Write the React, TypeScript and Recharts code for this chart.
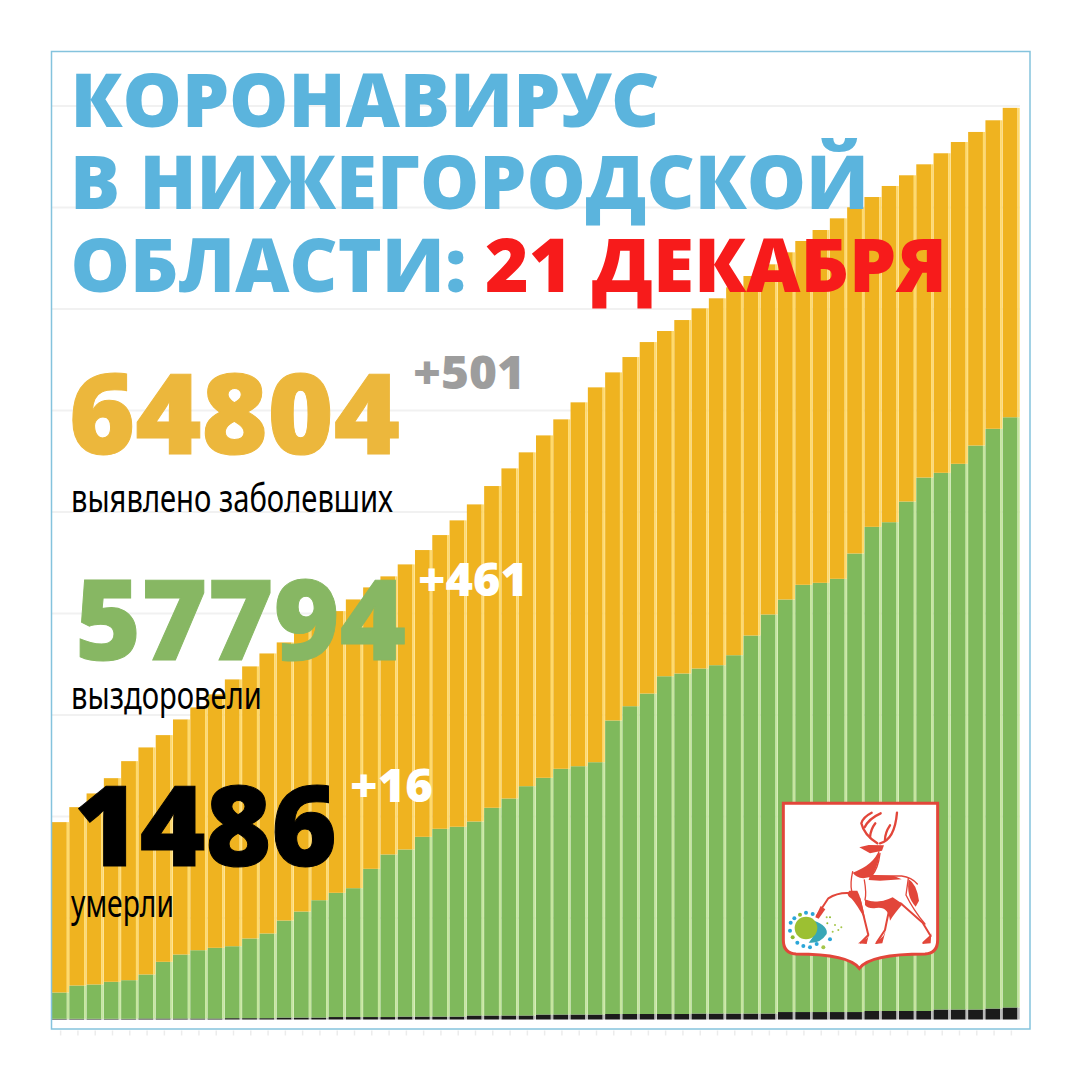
import React from "react";
import { BarChart, Bar, XAxis, YAxis, CartesianGrid } from "recharts";

// Bars in the picture's own scale (the last bar top = 64804).
// The green and black bars of the original are not to scale with their captions.
const confirmed = [
  14030, 15095, 16070, 17155, 18365, 19340, 20215, 21330, 22185, 23110, 24175, 25100, 26020, 26805,
  27730, 28370, 29030, 29860, 30715, 31500, 32350, 33370, 34435, 35480, 36615, 37920, 39175, 40315,
  41520, 42660, 43870, 44935, 46000, 47090, 48155, 48940, 49720, 50550, 51265, 52045, 52850, 53680,
  54535, 55340, 56120, 56950, 57735, 58465, 59250, 60010, 60790, 61575, 62375, 63090, 63920, 64804,
];
const recovered = [
  1920, 2415, 2490, 2680, 2795, 3200, 4100, 4620, 4925, 5095, 5210, 5760, 6115, 7035,
  7675, 8480, 9005, 9335, 10710, 11730, 12085, 12985, 13555, 13700, 14075, 15050, 15710, 16585,
  17180, 17820, 18005, 18290, 21255, 22270, 23170, 24400, 24595, 24950, 25185, 25895, 27295, 28790,
  29855, 30900, 31040, 31325, 33125, 35020, 35350, 36820, 38525, 38860, 39500, 40800, 41990, 42810,
];
const deaths = [
  50, 50, 50, 50, 50, 70, 70, 70, 70, 70, 95, 95, 95, 140,
  140, 140, 175, 175, 175, 175, 210, 210, 210, 210, 285, 285, 285, 285,
  355, 355, 355, 355, 390, 390, 390, 390, 390, 425, 425, 425, 425, 425,
  530, 530, 530, 530, 530, 605, 605, 605, 605, 710, 710, 710, 780, 855,
];
const gridValues = [7215, 14430, 21645, 28860, 36075, 43290, 50505, 57720, 64935];

const rows = confirmed.map((c, i) => ({
  day: i,
  dead: deaths[i],
  healed: recovered[i] - deaths[i],
  sick: c - recovered[i],
}));

const GAP = 2.2;

/** Bar with a pale strip on its right side, the original has these between the bars */
function stripedBar(stripColor: string) {
  return function StripedBar({ x, y, width, height, fill }: any) {
    return (
      <g>
        <rect x={x} y={y} width={width - GAP} height={height} fill={fill} />
        <rect x={x + width - GAP} y={y} width={GAP} height={height} fill={stripColor} />
      </g>
    );
  };
}

function TickMark({ x, y }: any) {
  return <line x1={x} x2={x} y1={y + 3} y2={y + 8} stroke="#ececec" strokeWidth={1.5} />;
}

const HEAVY = "'Open Sans', sans-serif";
const NARROW = "'Liberation Sans Narrow', 'Noto Sans', sans-serif";

function Caption({ x, y, w, size, color, weight, font, thick, children }: any) {
  return (
    <text
      x={x}
      y={y}
      textLength={w}
      lengthAdjust="spacingAndGlyphs"
      fontFamily={font || HEAVY}
      fontSize={size}
      fontWeight={weight || 800}
      fill={color}
      stroke={thick ? color : "none"}
      strokeWidth={thick || 0}
    >
      {children}
    </text>
  );
}

const RED = "#e2463a";
const virusDots: [number, number, string][] = [
  [62, 398, "#2ba6d8"], [73, 385, "#2ba6d8"], [90, 374, "#8dbb2e"], [108, 368, "#2ba6d8"],
  [128, 372, "#2ba6d8"], [60, 422, "#2ba6d8"], [68, 442, "#8dbb2e"], [82, 458, "#2ba6d8"],
  [100, 468, "#2ba6d8"], [120, 472, "#2ba6d8"], [140, 462, "#2ba6d8"], [160, 472, "#a5c64a"],
  [180, 448, "#2ba6d8"], [170, 382, "#a5c64a"], [180, 382, "#8dbb2e"], [195, 405, "#a5c64a"],
  [188, 425, "#a5c64a"], [205, 420, "#a5c64a"], [214, 412, "#a5c64a"], [172, 400, "#8dbb2e"],
];

/** City arms with the deer, drawn by hand in zoomed-in coordinates */
function Arms() {
  return (
    <g transform="translate(770 790) scale(0.3333)">
      <path
        d="M40 40 H503 V450 Q503 490 465 492 Q300 492 268 535 Q236 492 78 492 Q40 490 40 450 Z"
        fill="#fff"
        stroke={RED}
        strokeWidth={9}
      />
      <g fill="none" stroke={RED} strokeLinecap="round" strokeLinejoin="round">
        <g strokeWidth={7}>
          <path d="M322 160 Q282 135 274 100 Q278 82 305 68" />
          <path d="M284 112 Q296 86 332 70" />
          <path d="M300 142 Q302 118 316 100" />
          <path d="M330 160 Q374 150 381 68" />
          <path d="M345 150 Q345 128 360 106" />
        </g>
        <g strokeWidth={4}>
          <path d="M330 190 Q325 235 305 258 H395 Q425 262 442 282" />
          <path d="M283 270 Q290 310 285 330 Q320 345 365 330" />
          <path d="M248 245 Q240 280 245 303" />
          <path d="M415 265 L408 315 Q430 360 465 402" />
        </g>
        <g strokeWidth={6}>
          <path d="M248 310 Q205 305 175 325 L140 378" />
          <path d="M268 325 L295 435 L272 458" />
          <path d="M362 340 Q352 385 345 420 L320 458" />
          <path d="M392 340 L458 398 L482 438 L460 458" />
        </g>
      </g>
      <g fill={RED}>
        <path d="M268 172 L296 165 L342 166 L336 182 L300 190 Z" />
        <path d="M328 178 Q332 215 305 260 L280 265 Q258 262 248 248 Q312 225 328 178 Z" />
        <path d="M300 254 L372 258 L395 268 L330 272 L296 270 Z" />
        <path d="M238 302 L262 302 Q275 325 285 388 Q262 345 245 326 Q225 314 238 302 Z" />
        <path d="M285 330 Q320 345 368 322 L398 342 Q372 372 360 392 Q355 348 318 354 Q295 357 285 345 Z" />
        <path d="M416 268 Q440 282 447 332 L437 350 Q408 320 416 268 Z" />
        <path d="M136 382 L152 348 L166 358 L146 386 Z" />
        <path d="M264 460 L292 444 L298 428 L290 462 Z" />
        <path d="M314 462 L340 438 L347 422 L337 460 Z" />
        <path d="M456 462 L478 444 L484 430 L482 460 Z" />
      </g>
      <path d="M132 392 Q175 408 170 432 Q150 462 116 458 Q142 430 132 392 Z" fill="#38a7b6" />
      <circle cx={108} cy={414} r={34} fill="#9cc032" />
      {virusDots.map(([cx, cy, color], i) => (
        <circle key={i} cx={cx} cy={cy} r={i > 12 ? 3 : 6} fill={color} />
      ))}
    </g>
  );
}

export default function App() {
  return (
    <div style={{ position: "absolute", left: 0, top: 0, width: 1080, height: 1080, background: "#fff" }}>
      <BarChart
        width={1080}
        height={1080}
        data={rows}
        margin={{ top: 0, right: 60, bottom: 50.5, left: 52 }}
        barCategoryGap={0}
        barGap={0}
      >
        <CartesianGrid
          vertical={false}
          horizontalValues={gridValues}
          stroke="#f1f1f1"
          strokeWidth={2}
        />
        <XAxis dataKey="day" height={10} axisLine={false} tickLine={false} interval={0} tick={<TickMark />} />
        <YAxis hide domain={[0, 72470]} />
        <Bar dataKey="dead" stackId="all" fill="#1b1b1b" shape={stripedBar("#b9b9b9")} isAnimationActive={false} />
        <Bar dataKey="healed" stackId="all" fill="#7fb95c" shape={stripedBar("#c6e69f")} isAnimationActive={false} />
        <Bar dataKey="sick" stackId="all" fill="#efb320" shape={stripedBar("#ffda6c")} isAnimationActive={false} />
      </BarChart>

      <svg width={1080} height={1080} style={{ position: "absolute", left: 0, top: 0 }}>
        <rect x={51.5} y={51.5} width={978.5} height={977.5} fill="none" stroke="#84c3dd" strokeWidth={1.5} />

        <Caption x={70.5} y={127} w={589} size={75} color="#5bb4dd">КОРОНАВИРУС</Caption>
        <Caption x={70} y={209} w={799} size={75} color="#5bb4dd">В НИЖЕГОРОДСКОЙ</Caption>
        <Caption x={70.5} y={292} w={396} size={75} color="#5bb4dd">ОБЛАСТИ:</Caption>
        <Caption x={485} y={292} w={462} size={75} color="#f71b1b">21 ДЕКАБРЯ</Caption>

        <Caption x={69} y={454} w={331} size={112} thick={1} color="#ecb73c">64804</Caption>
        <Caption x={413} y={389} w={112} size={46} color="#9d9d9d">+501</Caption>
        <Caption x={71} y={512} w={322} size={38} weight={400} font={NARROW} color="#000">выявлено заболевших</Caption>

        <Caption x={75} y={660} w={331} size={112} thick={1} color="#87b763">57794</Caption>
        <Caption x={418} y={596} w={110} size={46} color="#fff">+461</Caption>
        <Caption x={71} y={709} w={191} size={38} weight={400} font={NARROW} color="#000">выздоровели</Caption>

        <Caption x={74} y={866} w={263} size={112} thick={1} color="#000">1486</Caption>
        <Caption x={350} y={802} w={83} size={46} color="#fff">+16</Caption>
        <Caption x={71} y={917} w={103} size={38} weight={400} font={NARROW} color="#000">умерли</Caption>

        <Arms />
      </svg>
    </div>
  );
}
